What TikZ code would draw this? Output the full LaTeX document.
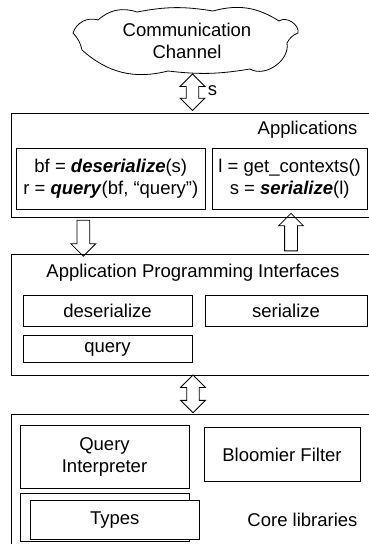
\documentclass[tikz,border=0pt]{standalone}
\usepackage{fontspec}
\setmainfont{Liberation Sans}
\usetikzlibrary{shapes.arrows}
\begin{document}
\begin{tikzpicture}[x=1pt, y=-1pt,
    every node/.style={font=\fontsize{18.5}{22}\selectfont},
    layer/.style={rectangle, draw, line width=0.8pt, inner sep=0pt, anchor=north west},
    box/.style={rectangle, draw, line width=0.8pt, inner sep=0pt, align=center},
    dblarrow/.style={double arrow, draw, line width=0.8pt, inner xsep=0pt, inner ysep=5.8pt, double arrow head extend=6.2pt, rotate=90},
    onearrow/.style={single arrow, draw, line width=0.8pt, inner xsep=0pt, inner ysep=6pt, single arrow head extend=6pt}
]
\clip (0,0) rectangle (369,544);
% communication channel (cloud outline drawn puff by puff)
\draw[line width=0.8pt, line join=round]
  (73,33) to[bend left=45] (98,20) to[bend left=30] (137,12)
  to[bend left=10] (213,11) to[bend left=24] (279,21)
  to[bend left=68] (298,33) to[bend right=20] (287,43)
  to[bend left=65] (250,69) to[bend left=8] (168,71)
  to[bend left=28] (82,50) to[bend right=15] (73,33);
\node[align=center] (chan) at (187,40.5) {Communication\\Channel};
\node[dblarrow, minimum height=36.5pt] (chanlink) at (192.5,92.3) {};
\node (s) at (212.5,91) {s};
% applications layer
\node[layer, minimum width=362pt, minimum height=103.4pt] (app) at (10.7,113.3) {};
\node[anchor=base east] (applabel) at (361,134.5) {Applications};
\node[box, minimum width=188.3pt, minimum height=61pt] (recv) at (110.8,178.8) {bf = \textbf{\textit{deserialize}}(s)\\r = \textbf{\textit{query}}(bf, “query”)};
\node[box, minimum width=154.7pt, minimum height=61pt] (send) at (289.7,178.8) {l = get\_contexts()\\s = \textbf{\textit{serialize}}(l)};
\node[onearrow, rotate=-90, minimum height=36pt] (down) at (83.3,235) {};
\node[onearrow, rotate=90, minimum height=37.5pt] (up) at (291,235.3) {};
% api layer
\node[layer, minimum width=362pt, minimum height=120.7pt] (api) at (10.7,254.3) {};
\node (apilabel) at (193,273) {Application Programming Interfaces};
\node[box, minimum width=169pt, minimum height=30.3pt] (deser) at (107.5,311) {deserialize};
\node[box, minimum width=162pt, minimum height=30.3pt] (ser) at (286,311) {serialize};
\node[box, minimum width=169pt, minimum height=27pt] (query) at (107.5,349.2) {query};
\node[dblarrow, minimum height=37.7pt] (corelink) at (193,393.9) {};
% core layer
\node[layer, minimum width=362pt, minimum height=150pt] (core) at (10.7,414.3) {};
\node[box, minimum width=169pt, minimum height=63.3pt] (interp) at (104.5,456.7) {Query\\Interpreter};
\node[box, minimum width=156pt, minimum height=54.4pt] (bloom) at (282,454.5) {Bloomier Filter};
\node[box, minimum width=169pt, minimum height=47.7pt] (typesback) at (104.5,517.2) {};
\node[box, fill=white, minimum width=169.3pt, minimum height=39.3pt] (types) at (114.7,519.7) {Types};
\node[anchor=base east] (corelabel) at (361,526.7) {Core libraries};
\end{tikzpicture}
\end{document}
